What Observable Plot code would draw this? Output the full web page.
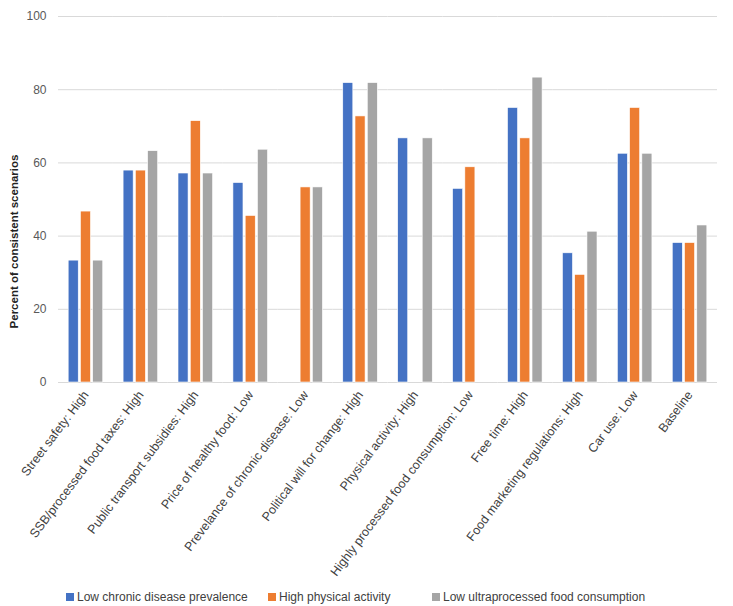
<!DOCTYPE html>
<html>
<head>
<meta charset="utf-8">
<script src="https://cdn.jsdelivr.net/npm/d3@7"></script>
<script src="https://cdn.jsdelivr.net/npm/@observablehq/plot@0.6"></script>
<style>
  body { margin: 0; background: #fff; font-family: "Liberation Sans", Arial, sans-serif; }
  #chart svg { display: block; }
  .legend { display: grid; grid-template-columns: 202px 164px auto; align-items: center; padding-left: 66px; font-size: 12px; color: #404040; height: 18px; margin-top: 2px; }
  .legend .item { display: flex; align-items: center; }
  .legend .sw { width: 8px; height: 8px; margin-right: 3px; }
</style>
</head>
<body>
<div id="chart"></div>
<div class="legend" id="legend"></div>
<script>
const categories = [
  "Street safety: High",
  "SSB/processed food taxes: High",
  "Public transport subsidies: High",
  "Price of healthy food: Low",
  "Prevelance of chronic disease: Low",
  "Political will for change: High",
  "Physical activity: High",
  "Highly processed food consumption: Low",
  "Free time: High",
  "Food marketing regulations: High",
  "Car use: Low",
  "Baseline"
];
const seriesNames = ["Low chronic disease prevalence", "High physical activity", "Low ultraprocessed food consumption"];
const seriesColors = ["#4472C4", "#ED7D31", "#A5A5A5"];
const lowChronic = [33.3, 57.9, 57.1, 54.5, null, 81.8, 66.7, 52.9, 75.0, 35.3, 62.5, 38.1];
const highPA     = [46.7, 57.9, 71.4, 45.5, 53.3, 72.7, null, 58.8, 66.7, 29.4, 75.0, 38.1];
const lowUPF     = [33.3, 63.2, 57.1, 63.6, 53.3, 81.8, 66.7, null, 83.3, 41.2, 62.5, 42.9];
const yTicks = [0, 20, 40, 60, 80, 100];

const seriesValues = [lowChronic, highPA, lowUPF];
const rows = [];
categories.forEach((c, i) => {
  seriesNames.forEach((s, j) => {
    const v = seriesValues[j][i];
    if (v != null) rows.push({category: c, series: s, value: v});
  });
});

const plot = Plot.plot({
  width: 733,
  height: 586,
  marginLeft: 58,
  marginRight: 16,
  marginTop: 16,
  marginBottom: 204,
  style: { fontFamily: "Liberation Sans, Arial, sans-serif", fontSize: "12px", color: "#595959" },
  fx: { domain: categories, padding: 0, round: false },
  x: { domain: seriesNames, paddingInner: 0.18, paddingOuter: 0.83, round: false, axis: null },
  y: { domain: [0, 100] },
  color: { domain: seriesNames, range: seriesColors },
  marks: [
    Plot.ruleY(yTicks, { stroke: "#d9d9d9", strokeWidth: 1 }),
    Plot.barY(rows, { fx: "category", x: "series", y: "value", fill: "series", stroke: "white", strokeWidth: 0.6 }),
    Plot.axisY(yTicks, { tickSize: 0, tickPadding: 12, label: "Percent of consistent scenarios", labelAnchor: "center", labelOffset: 49, labelArrow: "none", fontSize: 12 }),
    Plot.axisFx({ anchor: "bottom", tickSize: 0, tickPadding: 10, tickRotate: -53, label: null, fontSize: 12.5, fill: "#404040" })
  ]
});
document.getElementById("chart").appendChild(plot);

// bold y-axis label, shifted lower as in the reference
plot.querySelectorAll("text").forEach(t => {
  if (t.textContent.startsWith("Percent of consistent")) {
    t.setAttribute("font-weight", "bold");
    t.setAttribute("font-size", "11.5");
    t.setAttribute("fill", "#222");
    t.setAttribute("x", -42);
  }
});

const legend = document.getElementById("legend");
seriesNames.forEach((s, i) => {
  const item = document.createElement("div");
  item.className = "item";
  const sw = document.createElement("div");
  sw.className = "sw";
  sw.style.background = seriesColors[i];
  const lab = document.createElement("span");
  lab.textContent = s;
  item.appendChild(sw);
  item.appendChild(lab);
  legend.appendChild(item);
});
</script>
</body>
</html>
